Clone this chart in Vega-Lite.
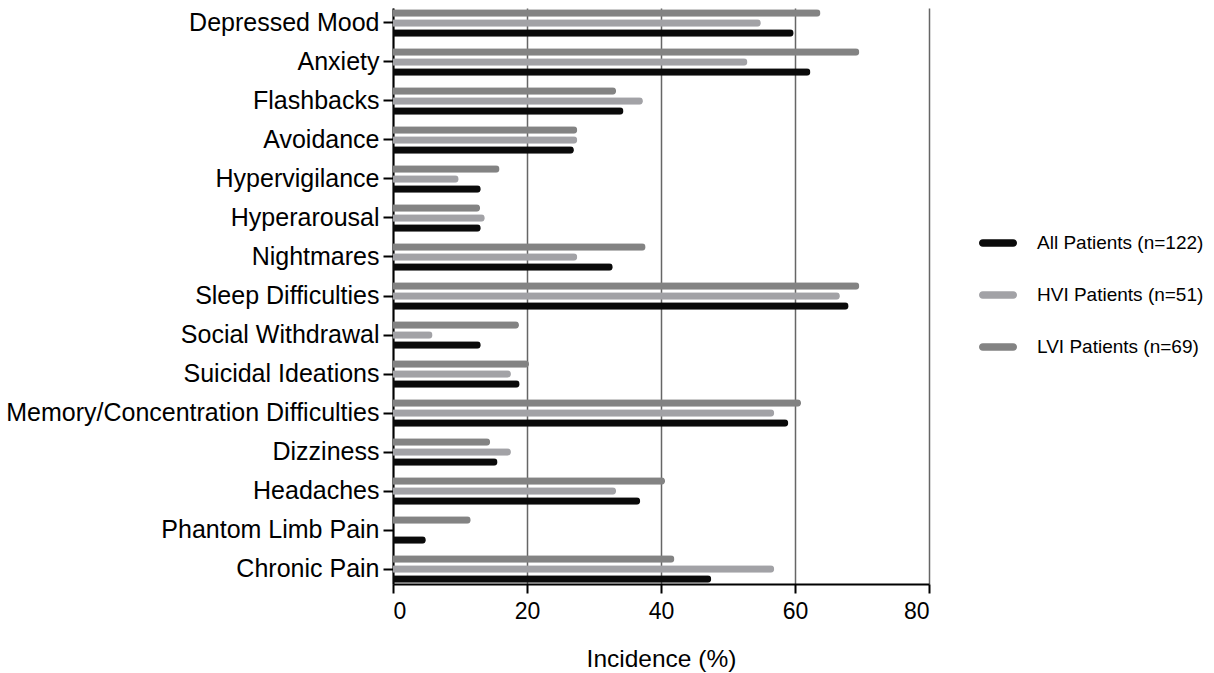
{
  "$schema": "https://vega.github.io/schema/vega-lite/v6.json",
  "width": 536,
  "height": 576,
  "autosize": {"type": "none"},
  "padding": {"left": 393, "top": 8, "right": 285, "bottom": 89},
  "background": "white",
  "config": {
    "font": "Liberation Sans",
    "view": {"stroke": null},
    "axis": {
      "labelColor": "black",
      "titleColor": "black",
      "domainColor": "black",
      "tickColor": "black",
      "domainWidth": 2,
      "tickWidth": 2,
      "titleFontWeight": "normal"
    }
  },
  "data": {
    "values": [
      {"symptom": "Depressed Mood", "group": "LVI Patients (n=69)", "pct": 63.8},
      {"symptom": "Depressed Mood", "group": "HVI Patients (n=51)", "pct": 54.9},
      {"symptom": "Depressed Mood", "group": "All Patients (n=122)", "pct": 59.8},
      {"symptom": "Anxiety", "group": "LVI Patients (n=69)", "pct": 69.6},
      {"symptom": "Anxiety", "group": "HVI Patients (n=51)", "pct": 52.9},
      {"symptom": "Anxiety", "group": "All Patients (n=122)", "pct": 62.3},
      {"symptom": "Flashbacks", "group": "LVI Patients (n=69)", "pct": 33.3},
      {"symptom": "Flashbacks", "group": "HVI Patients (n=51)", "pct": 37.3},
      {"symptom": "Flashbacks", "group": "All Patients (n=122)", "pct": 34.4},
      {"symptom": "Avoidance", "group": "LVI Patients (n=69)", "pct": 27.5},
      {"symptom": "Avoidance", "group": "HVI Patients (n=51)", "pct": 27.5},
      {"symptom": "Avoidance", "group": "All Patients (n=122)", "pct": 27.0},
      {"symptom": "Hypervigilance", "group": "LVI Patients (n=69)", "pct": 15.9},
      {"symptom": "Hypervigilance", "group": "HVI Patients (n=51)", "pct": 9.8},
      {"symptom": "Hypervigilance", "group": "All Patients (n=122)", "pct": 13.1},
      {"symptom": "Hyperarousal", "group": "LVI Patients (n=69)", "pct": 13.0},
      {"symptom": "Hyperarousal", "group": "HVI Patients (n=51)", "pct": 13.7},
      {"symptom": "Hyperarousal", "group": "All Patients (n=122)", "pct": 13.1},
      {"symptom": "Nightmares", "group": "LVI Patients (n=69)", "pct": 37.7},
      {"symptom": "Nightmares", "group": "HVI Patients (n=51)", "pct": 27.5},
      {"symptom": "Nightmares", "group": "All Patients (n=122)", "pct": 32.8},
      {"symptom": "Sleep Difficulties", "group": "LVI Patients (n=69)", "pct": 69.6},
      {"symptom": "Sleep Difficulties", "group": "HVI Patients (n=51)", "pct": 66.7},
      {"symptom": "Sleep Difficulties", "group": "All Patients (n=122)", "pct": 68.0},
      {"symptom": "Social Withdrawal", "group": "LVI Patients (n=69)", "pct": 18.8},
      {"symptom": "Social Withdrawal", "group": "HVI Patients (n=51)", "pct": 5.9},
      {"symptom": "Social Withdrawal", "group": "All Patients (n=122)", "pct": 13.1},
      {"symptom": "Suicidal Ideations", "group": "LVI Patients (n=69)", "pct": 20.3},
      {"symptom": "Suicidal Ideations", "group": "HVI Patients (n=51)", "pct": 17.6},
      {"symptom": "Suicidal Ideations", "group": "All Patients (n=122)", "pct": 18.9},
      {"symptom": "Memory/Concentration Difficulties", "group": "LVI Patients (n=69)", "pct": 60.9},
      {"symptom": "Memory/Concentration Difficulties", "group": "HVI Patients (n=51)", "pct": 56.9},
      {"symptom": "Memory/Concentration Difficulties", "group": "All Patients (n=122)", "pct": 59.0},
      {"symptom": "Dizziness", "group": "LVI Patients (n=69)", "pct": 14.5},
      {"symptom": "Dizziness", "group": "HVI Patients (n=51)", "pct": 17.6},
      {"symptom": "Dizziness", "group": "All Patients (n=122)", "pct": 15.6},
      {"symptom": "Headaches", "group": "LVI Patients (n=69)", "pct": 40.6},
      {"symptom": "Headaches", "group": "HVI Patients (n=51)", "pct": 33.3},
      {"symptom": "Headaches", "group": "All Patients (n=122)", "pct": 36.9},
      {"symptom": "Phantom Limb Pain", "group": "LVI Patients (n=69)", "pct": 11.6},
      {"symptom": "Phantom Limb Pain", "group": "HVI Patients (n=51)", "pct": 0},
      {"symptom": "Phantom Limb Pain", "group": "All Patients (n=122)", "pct": 4.9},
      {"symptom": "Chronic Pain", "group": "LVI Patients (n=69)", "pct": 42.0},
      {"symptom": "Chronic Pain", "group": "HVI Patients (n=51)", "pct": 56.9},
      {"symptom": "Chronic Pain", "group": "All Patients (n=122)", "pct": 47.5}
    ]
  },
  "mark": {"type": "bar", "cornerRadiusEnd": 3.5},
  "encoding": {
    "y": {
      "field": "symptom",
      "type": "nominal",
      "sort": null,
      "scale": {"paddingInner": 0.2308, "paddingOuter": 0},
      "axis": {
        "title": null,
        "labelFontSize": 25,
        "labelPadding": 4,
        "tickSize": 10,
        "labelLimit": 400,
        "grid": false
      }
    },
    "yOffset": {
      "field": "group",
      "type": "nominal",
      "scale": {
        "domain": ["LVI Patients (n=69)", "HVI Patients (n=51)", "All Patients (n=122)"],
        "paddingInner": 0.25,
        "paddingOuter": 0.125
      }
    },
    "x": {
      "field": "pct",
      "type": "quantitative",
      "scale": {"domain": [0, 80], "nice": false},
      "axis": {
        "title": "Incidence (%)",
        "titleFontSize": 24.5,
        "titlePadding": 24,
        "values": [0, 20, 40, 60, 80],
        "labelFontSize": 23,
        "labelPadding": 7,
        "tickSize": 9,
        "grid": true,
        "gridColor": "#666666",
        "gridWidth": 1.5
      }
    },
    "color": {
      "field": "group",
      "type": "nominal",
      "scale": {
        "domain": ["All Patients (n=122)", "HVI Patients (n=51)", "LVI Patients (n=69)"],
        "range": ["#0a0a0a", "#a2a2a6", "#838383"]
      },
      "legend": {
        "title": null,
        "orient": "none",
        "legendX": 586,
        "legendY": 216,
        "symbolType": "M-0.8,-0.2L0.8,-0.2A0.2,0.2 0 0 1 0.8,0.2L-0.8,0.2A0.2,0.2 0 0 1 -0.8,-0.2Z",
        "symbolSize": 1444,
        "symbolStrokeWidth": 0,
        "symbolOpacity": 1,
        "labelFontSize": 19,
        "labelColor": "black",
        "labelOffset": 20,
        "labelLimit": 300,
        "rowPadding": 23
      }
    }
  }
}
